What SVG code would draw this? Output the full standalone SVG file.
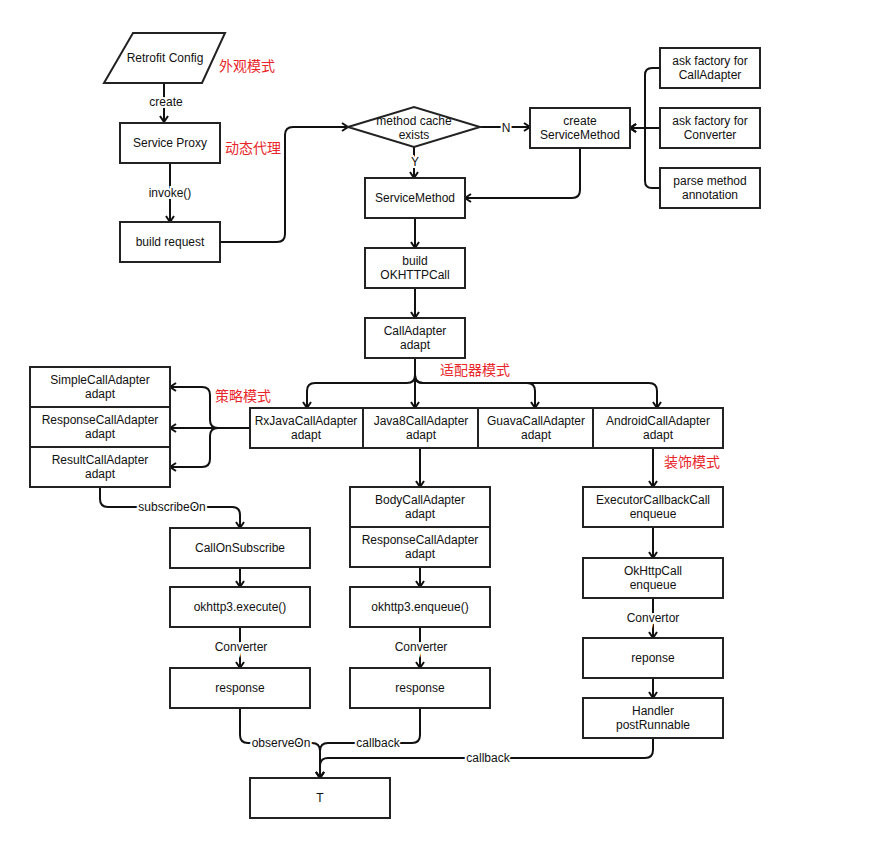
<svg xmlns="http://www.w3.org/2000/svg" width="891" height="842" viewBox="0 0 891 842">
<style>
.box{fill:#fff;stroke:#222;stroke-width:2}
.t{font-family:"Liberation Sans",Arial,sans-serif;font-size:12px;fill:#111;text-anchor:middle;dominant-baseline:central}
.lbl{font-family:"Liberation Sans",Arial,sans-serif;font-size:12px;fill:#111;text-anchor:middle;dominant-baseline:central;stroke:#fff;stroke-width:4;paint-order:stroke}
.red{font-family:"Noto Sans CJK SC",sans-serif;font-size:14px;fill:#e8262a}
.e{fill:none;stroke:#111;stroke-width:2;marker-end:url(#a)}
.n{fill:none;stroke:#111;stroke-width:2}
</style>
<defs>
<marker id="a" markerUnits="userSpaceOnUse" markerWidth="12" markerHeight="12" refX="9" refY="6" orient="auto">
<path d="M3,2 L9,6 L3,10" fill="none" stroke="#111" stroke-width="2"/>
</marker>
</defs>
<rect width="891" height="842" fill="#fff"/>
<g id="connectors">
<path class="e" d="M164,83 V122"/>
<path class="e" d="M170,163 V222"/>
<path class="e" d="M220,242 H277 Q285,242 285,234 V135 Q285,127 293,127 H348"/>
<path class="e" d="M480,127 H530"/>
<path class="e" d="M414,147 V178"/>
<path class="e" d="M580,148 V190 Q580,198 572,198 H465"/>
<path class="e" d="M660,68 H652 Q645,68 645,75 V128 H630"/>
<path class="e" d="M660,128 H630"/>
<path class="e" d="M660,188 H652 Q645,188 645,181 V128 H630"/>
<path class="e" d="M415,218 V248"/>
<path class="e" d="M415,288 V318"/>
<path class="e" d="M415,358 V408"/>
<path class="e" d="M415,358 V375 Q415,383 407,383 H315 Q307,383 307,391 V408"/>
<path class="e" d="M415,358 V375 Q415,383 423,383 H527 Q535,383 535,391 V408"/>
<path class="e" d="M415,358 V375 Q415,383 423,383 H649 Q657,383 657,391 V408"/>
<path class="e" d="M250,428 H170"/>
<path class="e" d="M250,428 H218 Q210,428 210,420 V395 Q210,387 202,387 H170"/>
<path class="e" d="M250,428 H218 Q210,428 210,436 V459 Q210,467 202,467 H170"/>
<path class="e" d="M420,448 V487"/>
<path class="e" d="M420,567 V587"/>
<path class="e" d="M100,487 V499 Q100,507 108,507 H232 Q240,507 240,515 V528"/>
<path class="e" d="M240,568 V587"/>
<path class="e" d="M240,627 V668"/>
<path class="e" d="M420,627 V668"/>
<path class="e" d="M240,708 V735 Q240,743 248,743 H312 Q320,743 320,751 V778"/>
<path class="e" d="M420,708 V735 Q420,743 412,743 H328 Q320,743 320,751 V778"/>
<path class="e" d="M653,738 V750 Q653,758 645,758 H328 Q320,758 320,766 V778"/>
<path class="e" d="M653,448 V487"/>
<path class="e" d="M653,527 V558"/>
<path class="e" d="M653,598 V638"/>
<path class="e" d="M653,678 V698"/>
<text class="lbl" x="166" y="102">create</text>
<text class="lbl" x="170" y="193">invoke()</text>
<text class="lbl" x="506" y="128">N</text>
<text class="lbl" x="415" y="162">Y</text>
<text class="lbl" x="172" y="507">subscribeOn</text>
<text class="lbl" x="241" y="647">Converter</text>
<text class="lbl" x="421" y="647">Converter</text>
<text class="lbl" x="281" y="743">observeOn</text>
<text class="lbl" x="378" y="743">callback</text>
<text class="lbl" x="488" y="758">callback</text>
<text class="lbl" x="653" y="618">Convertor</text>
</g>
<g id="retrofit-config"><polygon class="box" points="133,33 225,33 202,83 104,83"/><text class="t" x="165" y="58">Retrofit Config</text></g>
<g id="service-proxy"><rect class="box" x="120" y="123" width="100" height="40"/><text class="t" x="170" y="143">Service Proxy</text></g>
<g id="build-request"><rect class="box" x="120" y="222" width="100" height="40"/><text class="t" x="170" y="242">build request</text></g>
<g id="method-cache"><polygon class="box" points="348,127 414,107 480,127 414,147"/><text class="t" x="414" y="121">method cache</text><text class="t" x="414" y="135">exists</text></g>
<g id="create-servicemethod"><rect class="box" x="530" y="108" width="100" height="40"/><text class="t" x="580" y="121">create</text><text class="t" x="580" y="135">ServiceMethod</text></g>
<g id="ask-calladapter"><rect class="box" x="660" y="48" width="100" height="40"/><text class="t" x="710" y="61">ask factory for</text><text class="t" x="710" y="75">CallAdapter</text></g>
<g id="ask-converter"><rect class="box" x="660" y="108" width="100" height="40"/><text class="t" x="710" y="121">ask factory for</text><text class="t" x="710" y="135">Converter</text></g>
<g id="parse-annotation"><rect class="box" x="660" y="168" width="100" height="40"/><text class="t" x="710" y="181">parse method</text><text class="t" x="710" y="195">annotation</text></g>
<g id="servicemethod"><rect class="box" x="365" y="178" width="100" height="40"/><text class="t" x="415" y="198">ServiceMethod</text></g>
<g id="build-okhttpcall"><rect class="box" x="365" y="248" width="100" height="40"/><text class="t" x="415" y="261">build</text><text class="t" x="415" y="275">OKHTTPCall</text></g>
<g id="calladapter-adapt"><rect class="box" x="365" y="318" width="100" height="40"/><text class="t" x="415" y="331">CallAdapter</text><text class="t" x="415" y="345">adapt</text></g>
<g id="rxjava"><rect class="box" x="250" y="408" width="113" height="40"/><text class="t" x="306" y="421">RxJavaCallAdapter</text><text class="t" x="306" y="435">adapt</text></g>
<g id="java8"><rect class="box" x="363" y="408" width="115" height="40"/><text class="t" x="421" y="421">Java8CallAdapter</text><text class="t" x="421" y="435">adapt</text></g>
<g id="guava"><rect class="box" x="478" y="408" width="115" height="40"/><text class="t" x="536" y="421">GuavaCallAdapter</text><text class="t" x="536" y="435">adapt</text></g>
<g id="android"><rect class="box" x="593" y="408" width="130" height="40"/><text class="t" x="658" y="421">AndroidCallAdapter</text><text class="t" x="658" y="435">adapt</text></g>
<g id="simple"><rect class="box" x="30" y="367" width="140" height="40"/><text class="t" x="100" y="380">SimpleCallAdapter</text><text class="t" x="100" y="394">adapt</text></g>
<g id="response-ca"><rect class="box" x="30" y="407" width="140" height="40"/><text class="t" x="100" y="420">ResponseCallAdapter</text><text class="t" x="100" y="434">adapt</text></g>
<g id="result-ca"><rect class="box" x="30" y="447" width="140" height="40"/><text class="t" x="100" y="460">ResultCallAdapter</text><text class="t" x="100" y="474">adapt</text></g>
<g id="calloonsubscribe"><rect class="box" x="170" y="528" width="140" height="40"/><text class="t" x="240" y="548">CallOnSubscribe</text></g>
<g id="execute"><rect class="box" x="170" y="587" width="140" height="40"/><text class="t" x="240" y="607">okhttp3.execute()</text></g>
<g id="response-left"><rect class="box" x="170" y="668" width="140" height="40"/><text class="t" x="240" y="688">response</text></g>
<g id="body-ca"><rect class="box" x="350" y="487" width="140" height="40"/><text class="t" x="420" y="500">BodyCallAdapter</text><text class="t" x="420" y="514">adapt</text></g>
<g id="response-ca2"><rect class="box" x="350" y="527" width="140" height="40"/><text class="t" x="420" y="540">ResponseCallAdapter</text><text class="t" x="420" y="554">adapt</text></g>
<g id="enqueue"><rect class="box" x="350" y="587" width="140" height="40"/><text class="t" x="420" y="607">okhttp3.enqueue()</text></g>
<g id="response-mid"><rect class="box" x="350" y="668" width="140" height="40"/><text class="t" x="420" y="688">response</text></g>
<g id="executor"><rect class="box" x="583" y="487" width="140" height="40"/><text class="t" x="653" y="500">ExecutorCallbackCall</text><text class="t" x="653" y="514">enqueue</text></g>
<g id="okhttpcall"><rect class="box" x="583" y="558" width="140" height="40"/><text class="t" x="653" y="571">OkHttpCall</text><text class="t" x="653" y="585">enqueue</text></g>
<g id="reponse"><rect class="box" x="583" y="638" width="140" height="40"/><text class="t" x="653" y="658">reponse</text></g>
<g id="handler"><rect class="box" x="583" y="698" width="140" height="40"/><text class="t" x="653" y="711">Handler</text><text class="t" x="653" y="725">postRunnable</text></g>
<g id="t"><rect class="box" x="250" y="778" width="140" height="40"/><text class="t" x="320" y="798">T</text></g>
<g id="notes">
<text class="red" x="219" y="71">外观模式</text>
<text class="red" x="225" y="153">动态代理</text>
<text class="red" x="215" y="401">策略模式</text>
<text class="red" x="440" y="375">适配器模式</text>
<text class="red" x="664" y="467">装饰模式</text>
</g>
</svg>
